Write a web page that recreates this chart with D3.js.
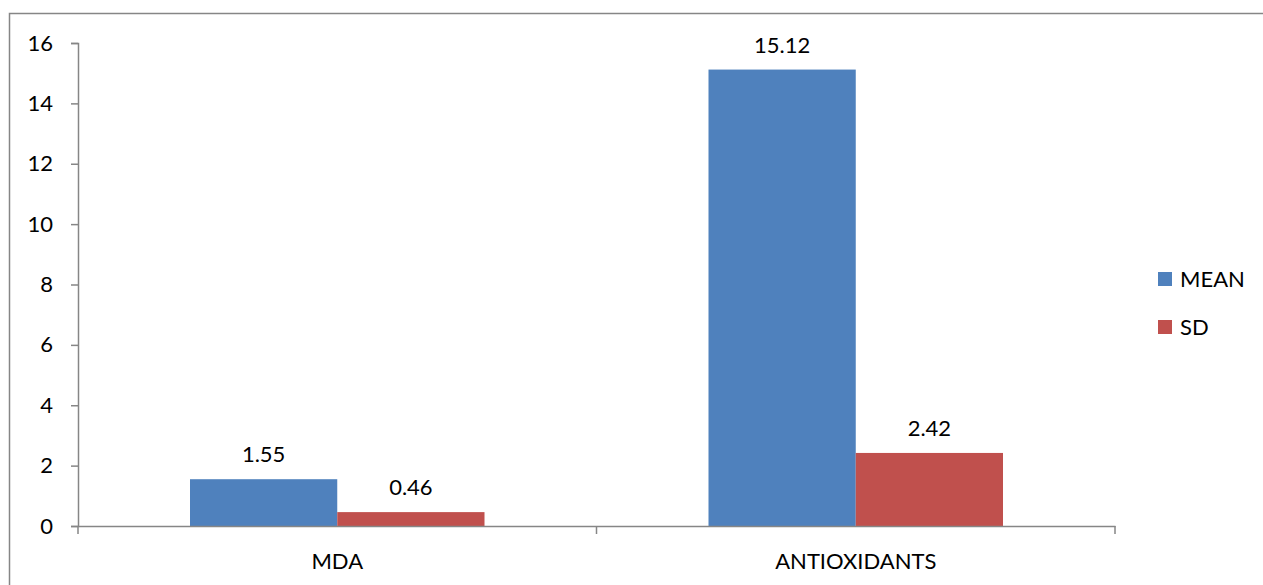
<!DOCTYPE html>
<html>
<head>
<meta charset="utf-8">
<script src="https://cdn.jsdelivr.net/npm/d3@7"></script>
<style>
  html, body { margin: 0; padding: 0; background: #fff; }
  svg { display: block; font-family: Lato, "Open Sans", sans-serif; }
</style>
</head>
<body>
<svg id="chart" width="1263" height="585"></svg>
<script>
const categories = ["MDA", "ANTIOXIDANTS"];
const seriesNames = ["MEAN", "SD"];
const meanValues = [1.55, 15.12];
const sdValues = [0.46, 2.42];
const yTicks = [0, 2, 4, 6, 8, 10, 12, 14, 16];
const colors = ["#4F81BD", "#C0504D"];

const svg = d3.select("#chart");
const axisColor = "#868686";
const fontFamily = "Lato, 'Open Sans', sans-serif";
const fontSize = "22px";

// chart frame
svg.append("rect")
  .attr("x", 9.5).attr("y", 13.5)
  .attr("width", 1300).attr("height", 700)
  .attr("fill", "none").attr("stroke", axisColor).attr("stroke-width", 1.5);

const plot = { left: 78, right: 1115, top: 43, bottom: 526 };

const y = d3.scaleLinear().domain([0, 16]).range([plot.bottom, plot.top]);
const x0 = d3.scaleBand().domain(categories).range([plot.left, plot.right]).paddingInner(0).paddingOuter(0);
const groupPad = 112;
const x1 = d3.scaleBand().domain(seriesNames)
  .range([groupPad, x0.bandwidth() - groupPad]).padding(0);

const data = categories.map((c, i) => ({
  category: c,
  values: [{ s: "MEAN", v: meanValues[i] }, { s: "SD", v: sdValues[i] }]
}));

// y axis
const yAxis = d3.axisLeft(y).tickValues(yTicks).tickSize(7).tickPadding(18).tickFormat(d3.format("d"));
const gy = svg.append("g").attr("transform", `translate(${plot.left},0)`).call(yAxis);
gy.select(".domain").attr("stroke", axisColor).attr("stroke-width", 1.5);
gy.selectAll(".tick line").attr("stroke", axisColor).attr("stroke-width", 1.5);
gy.selectAll(".tick text").attr("fill", "#000").style("font-size", fontSize)
  .style("font-family", fontFamily);

// bars
const groups = svg.append("g").selectAll("g").data(data).join("g")
  .attr("transform", d => `translate(${x0(d.category)},0)`);

groups.selectAll("rect").data(d => d.values).join("rect")
  .attr("x", d => x1(d.s))
  .attr("y", d => y(d.v))
  .attr("width", x1.bandwidth())
  .attr("height", d => y(0) - y(d.v))
  .attr("fill", (d, i) => colors[i]);

groups.selectAll("text").data(d => d.values).join("text")
  .attr("x", d => x1(d.s) + x1.bandwidth() / 2)
  .attr("y", d => y(d.v) - 17)
  .attr("text-anchor", "middle")
  .style("font-size", fontSize)
  .attr("fill", "#000")
  .text(d => d.v.toFixed(2));

// x axis
const xAxis = d3.axisBottom(x0).tickSize(0).tickPadding(27);
const gx = svg.append("g").attr("transform", `translate(0,${plot.bottom})`).call(xAxis);
gx.select(".domain").attr("stroke", axisColor).attr("stroke-width", 1.5);
gx.selectAll(".tick text").attr("fill", "#000").style("font-size", fontSize)
  .style("font-family", fontFamily);
// category separators
const bounds = [plot.left, plot.left + x0.bandwidth(), plot.right];
gx.selectAll("line.sep").data(bounds).join("line")
  .attr("class", "sep")
  .attr("x1", d => d).attr("x2", d => d)
  .attr("y1", 0).attr("y2", 8)
  .attr("stroke", axisColor).attr("stroke-width", 1.5);

// legend
const legend = svg.append("g").attr("transform", "translate(1158,272)");
const li = legend.selectAll("g").data(seriesNames).join("g")
  .attr("transform", (d, i) => `translate(0,${i * 48})`);
li.append("rect").attr("width", 14).attr("height", 14).attr("fill", (d, i) => colors[i]);
li.append("text").attr("x", 22).attr("y", 7).attr("dy", "0.36em")
  .style("font-size", fontSize).attr("fill", "#000").text(d => d);
</script>
</body>
</html>
